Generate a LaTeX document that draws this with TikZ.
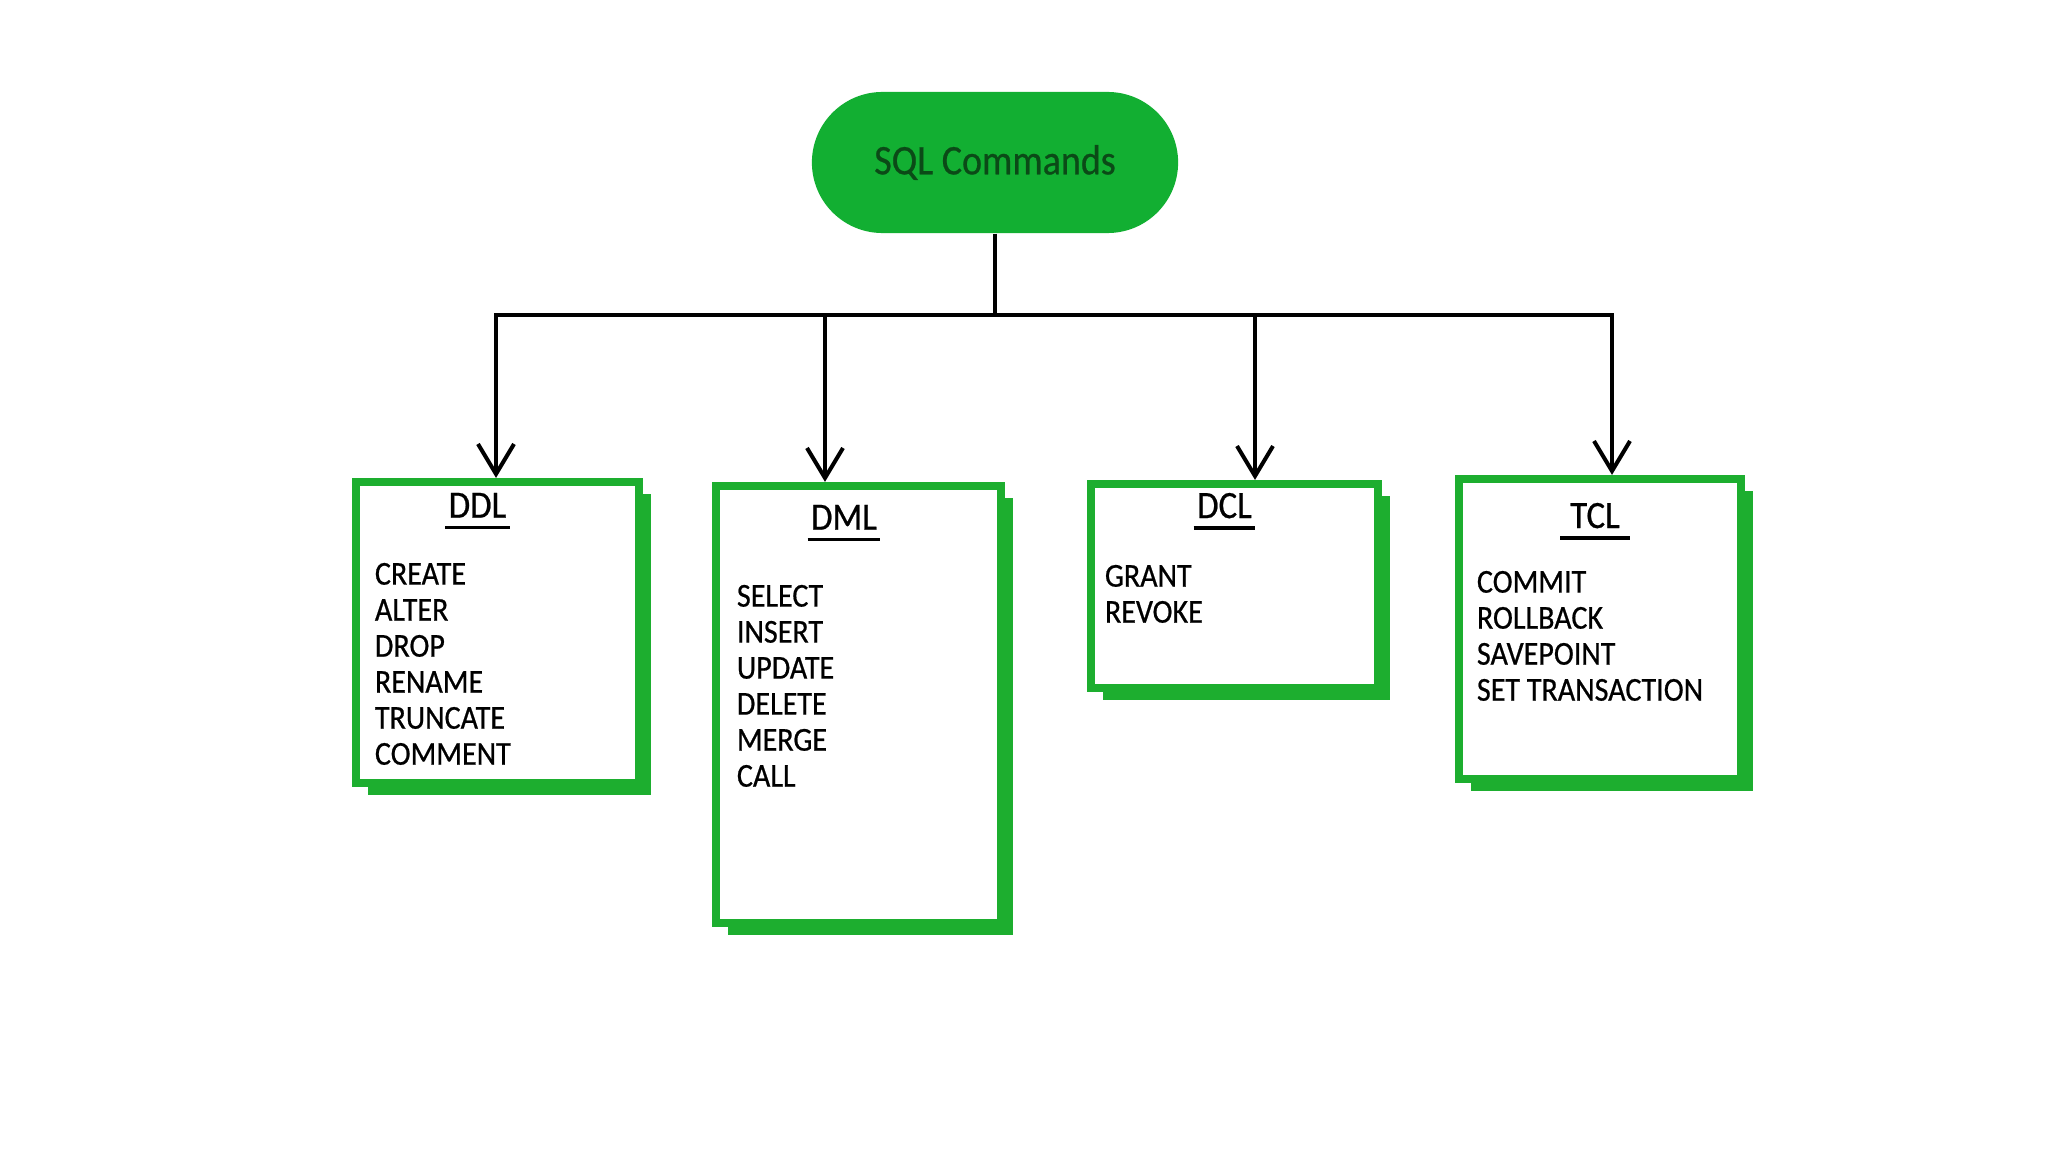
\documentclass[tikz,border=0pt]{standalone}
\usepackage{fontspec}
\setmainfont{Carlito}[FakeStretch=0.9, FakeBold=0.6]
\usetikzlibrary{arrows.meta, positioning, shadows}
\definecolor{sqlgreen}{HTML}{12AF32}
\definecolor{darkleaf}{HTML}{0B4A17}
\definecolor{boxgreen}{HTML}{1DAE2F}
\tikzset{
  pill/.style={rectangle, rounded corners=0.705cm, fill=sqlgreen, minimum width=3.66cm,
    minimum height=1.41cm, font=\fontsize{12}{14}\selectfont, text=darkleaf},
  group/.style={rectangle, draw=boxgreen, line width=0.08cm, fill=white,
    drop shadow={shadow xshift=0.12cm, shadow yshift=-0.12cm, fill=boxgreen, opacity=1}},
  head/.style={font=\fontsize{11}{13}\selectfont, inner xsep=1pt, inner ysep=0.1cm,
    text depth=0pt, outer sep=0pt},
  items/.style={font=\fontsize{9.5}{10.24}\selectfont, align=left, inner sep=0pt, outer sep=0pt},
  link/.style={line width=0.04cm, black},
  arrow/.style={link, -{Straight Barb[length=3mm, width=3.6mm]}},
  uline/.style={line width=0.035cm, black},
}
\begin{document}
\begin{tikzpicture}[x=0.01cm, y=-0.01cm]
\useasboundingbox (0,0) rectangle (2048,1152);
\node[pill] (sql) at (995,162.5) {SQL Commands};

\node[group, minimum width=2.83cm, minimum height=3.01cm] (ddl) at (497.5,632.5) {};
\node[group, minimum width=2.85cm, minimum height=4.37cm] (dml) at (858.5,704.5) {};
\node[group, minimum width=2.87cm, minimum height=2.04cm] (dcl) at (1234.5,586) {};
\node[group, minimum width=2.82cm, minimum height=3.00cm] (tcl) at (1600,629) {};

\node[head, below=0.05cm of ddl.north, xshift=-0.2cm] (ddlhead) {DDL};
\node[head, below=0.13cm of dml.north, xshift=-0.145cm] (dmlhead) {DML};
\node[head, below=0.03cm of dcl.north, xshift=-0.1cm] (dclhead) {DCL};
\node[head, below=0.18cm of tcl.north, xshift=-0.05cm, inner xsep=0.1cm] (tclhead) {TCL};

\node[items, below right=0.85cm and 0.23cm of ddl.north west] (ddllist)
  {CREATE\\ALTER\\DROP\\RENAME\\TRUNCATE\\COMMENT};
\node[items, below right=1.03cm and 0.25cm of dml.north west] (dmllist)
  {SELECT\\INSERT\\UPDATE\\DELETE\\MERGE\\CALL};
\node[items, below right=0.85cm and 0.18cm of dcl.north west] (dcllist)
  {GRANT\\REVOKE};
\node[items, below right=0.96cm and 0.22cm of tcl.north west] (tcllist)
  {COMMIT\\ROLLBACK\\SAVEPOINT\\SET TRANSACTION};

\coordinate (j1) at (496,315);
\coordinate (j2) at (825,315);
\coordinate (j3) at (1255,315);
\coordinate (j4) at (1612,315);

\draw[link] (sql.south) -- (sql.south |- j1);
\draw[link, line cap=rect] (j1) -- (j4);
\draw[arrow] (j1) -- (j1 |- ddl.north);
\draw[arrow] (j2) -- (j2 |- dml.north);
\draw[arrow] (j3) -- (j3 |- dcl.north);
\draw[arrow] (j4) -- (j4 |- tcl.north);

\draw[uline] (ddlhead.south west) -- (ddlhead.south east);
\draw[uline] (dmlhead.south west) -- (dmlhead.south east);
\draw[uline] (dclhead.south west) -- (dclhead.south east);
\draw[uline] (tclhead.south west) -- (tclhead.south east);
\end{tikzpicture}
\end{document}
